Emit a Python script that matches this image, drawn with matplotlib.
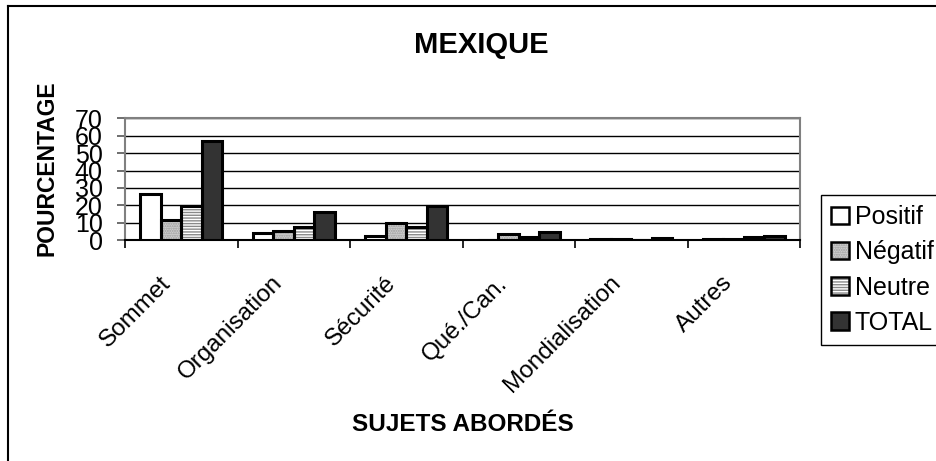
import matplotlib
matplotlib.use("Agg")
import matplotlib.pyplot as plt
import numpy as np
from matplotlib.lines import Line2D
from matplotlib.patches import Patch
from matplotlib.transforms import ScaledTranslation

plt.rcParams['font.family'] = ['Liberation Sans', 'DejaVu Sans']
plt.rcParams['hatch.linewidth'] = 1.0

categories = ["Sommet", "Organisation", "Sécurité", "Qué./Can.", "Mondialisation", "Autres"]
series_names = ["Positif", "Négatif", "Neutre", "TOTAL"]
positif = [26.4, 4.2, 2.5, 0.0, 0.8, 0.5]
negatif = [11.5, 5.2, 9.8, 3.3, 0.5, 0.5]
neutre = [19.8, 7.5, 7.7, 1.5, 0.0, 1.8]
total = [57.3, 16.2, 19.8, 4.5, 1.0, 2.4]
y_ticks = [0, 10, 20, 30, 40, 50, 60, 70]

W, H = 936, 461
fig = plt.figure(figsize=(W / 100, H / 100), dpi=100)
fig.patch.set_facecolor('white')

x0, x1 = 125, 800
ytop, ybot = 118.5, 240
ax = fig.add_axes([x0 / W, 1 - ybot / H, (x1 - x0) / W, (ybot - ytop) / H])

x = np.arange(len(categories))
bw = 0.1825
styles = [
    dict(face='white', hatch=None, hcol='white'),
    dict(face='#d0d0d0', hatch='.......', hcol='#9a9a9a'),
    dict(face='white', hatch='------', hcol='#8a8a8a'),
    dict(face='#333333', hatch=None, hcol='#333333'),
]
data = [positif, negatif, neutre, total]
handles = []
for i, (vals, st) in enumerate(zip(data, styles)):
    pos = x + (i - 1.5) * bw
    ax.bar(pos, vals, width=bw, color=st['face'], hatch=st['hatch'],
           edgecolor=st['hcol'], linewidth=0, zorder=3)
    ax.bar(pos, vals, width=bw, fill=False, edgecolor='black', linewidth=2.2, zorder=4)
    h1 = Patch(facecolor=st['face'], hatch=st['hatch'], edgecolor=st['hcol'], linewidth=0)
    h2 = Patch(fill=False, edgecolor='black', linewidth=1.8)
    handles.append((h1, h2))

ax.set_xlim(-0.5, len(categories) - 0.5)
ax.set_ylim(0, 70)
ax.set_yticks(y_ticks)
ax.set_yticklabels([str(v) for v in y_ticks], fontsize=18)
ax.yaxis.grid(True, color='black', linewidth=1.0, zorder=1)
ax.set_axisbelow(True)
ax.tick_params(axis='y', length=6, width=1.2, pad=10, color='#555555')

ax.set_xticks(np.arange(-0.5, len(categories), 1.0), minor=False)
ax.set_xticklabels([])
ax.set_xticks(x, minor=True)
ax.set_xticklabels(categories, minor=True, rotation=45, ha='right',
                   va='top', rotation_mode='anchor', fontsize=17.5)
ax.tick_params(axis='x', which='major', length=6, width=1.2, direction='out')
ax.tick_params(axis='x', which='minor', length=0, pad=23)
for lbl in ax.get_xticklabels(minor=True):
    lbl.set_transform(lbl.get_transform() + ScaledTranslation(-0.22, 0, fig.dpi_scale_trans))

for s in ['top', 'right', 'left']:
    ax.spines[s].set_color('#808080')
    ax.spines[s].set_linewidth(1.5)
ax.spines['bottom'].set_color('black')
ax.spines['bottom'].set_linewidth(1.5)

fig.text(481 / W, 1 - 45 / H, "MEXIQUE", fontsize=21, fontweight='bold',
         ha='center', va='center')
fig.text(463 / W, 1 - 424 / H, "SUJETS ABORDÉS", fontsize=17.5, fontweight='bold',
         ha='center', va='center')
fig.text(47 / W, 1 - 168 / H, "POURCENTAGE", fontsize=16.5, fontweight='bold',
         ha='center', va='center', rotation=90)

leg = fig.legend(handles, series_names, loc='upper left',
                 bbox_to_anchor=(821 / W, 1 - 195 / H), borderaxespad=0,
                 fontsize=18, frameon=True, fancybox=False, framealpha=1,
                 edgecolor='black', handlelength=0.7, handleheight=0.7,
                 handletextpad=0.25, labelspacing=0.45, borderpad=0.4)
leg.get_frame().set_linewidth(1.0)

fig.add_artist(Line2D([8 / W, 8 / W], [0, 1 - 6 / H], color='black', linewidth=1.5))
fig.add_artist(Line2D([8 / W, 1], [1 - 6 / H, 1 - 6 / H], color='black', linewidth=1.5))

fig.savefig("out.png", dpi=100, facecolor='white')
